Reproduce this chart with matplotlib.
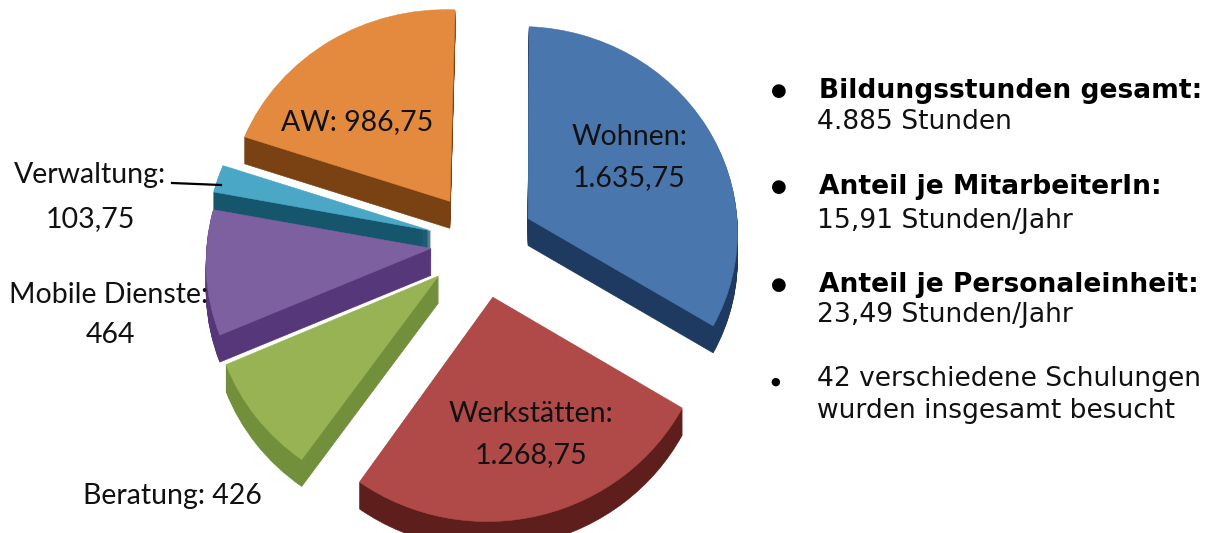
import numpy as np
import matplotlib
matplotlib.use("Agg")
import matplotlib.pyplot as plt
from matplotlib.transforms import Transform, Affine2D

categories = ["Wohnen", "Werkstätten", "Beratung", "Mobile Dienste", "Verwaltung", "AW"]
values = [1635.75, 1268.75, 426, 464, 103.75, 986.75]
value_labels = ["1.635,75", "1.268,75", "426", "464", "103,75", "986,75"]
explode = [0.25, 0.265, 0.25, 0.23, 0.24, 0.25]
top_colors = ["#4a76ae", "#b04a48", "#97b354", "#7d60a0", "#4aa8c6", "#e48a3e"]
side_colors = ["#1e3a60", "#5e1f1c", "#72903c", "#55377a", "#16566c", "#7a4212"]

W, H = 1206, 533
RX, RY = 217.0, 206.0
CX, CY = 481.0, 243.0
DEPTH = 27
K_Y, K_X = 0.055, 0.022


class Perspective(Transform):
    input_dims = output_dims = 2
    is_separable = False
    has_inverse = False

    def transform_non_affine(self, xy):
        xy = np.asarray(xy, dtype=float)
        w = 1 + K_Y * xy[:, 1] + K_X * xy[:, 0]
        return np.column_stack([xy[:, 0] / w, xy[:, 1] / w])


fig = plt.figure(figsize=(W / 100, H / 100), dpi=100, facecolor="white")
ax = fig.add_axes([0, 0, 1, 1])


def pie_layer(colors, drop):
    wedges, _ = ax.pie(values, explode=explode, colors=colors, startangle=89,
                       counterclock=False, radius=1.0,
                       wedgeprops=dict(linewidth=0.4))
    tr = Perspective() + Affine2D().translate(0, -drop / RY) + ax.transData
    for wd, col in zip(wedges, colors):
        wd.set_transform(tr)
        wd.set_edgecolor(col)


for d in range(DEPTH, 0, -1):
    pie_layer(side_colors, d)
pie_layer(top_colors, 0)

ax.set_aspect("auto")
ax.set_xlim(-CX / RX, (W - CX) / RX)
ax.set_ylim((CY - H) / RY, CY / RY)
ax.axis("off")


def px(x, y):
    return x / W, 1 - y / H


LF = ["Lato", "DejaVu Sans"]
FS = 20.5


def chart_label(x, y, s):
    fx, fy = px(x, y)
    fig.text(fx, fy, s, ha="center", va="center", family=LF, fontsize=FS, color="#111111")


chart_label(630, 137, f"{categories[0]}:")
chart_label(629, 178, value_labels[0])
chart_label(531, 414, f"{categories[1]}:")
chart_label(531, 455, value_labels[1])
chart_label(172, 496, f"{categories[2]}: {value_labels[2]}")
chart_label(109, 295, f"{categories[3]}:")
chart_label(110, 335, value_labels[3])
chart_label(90, 175, f"{categories[4]}:")
chart_label(90, 219, value_labels[4])
chart_label(357, 122, f"{categories[5]}: {value_labels[5]}")

# leader line for Verwaltung
lx0, ly0 = px(172, 183)
lx1, ly1 = px(221, 185)
fig.add_artist(plt.Line2D([lx0, lx1], [ly0, ly1], color="black", lw=1.6))

RF = "DejaVu Sans"
RS = 19.1
heads = ["Bildungsstunden gesamt:", "Anteil je MitarbeiterIn:", "Anteil je Personaleinheit:"]
subs = ["4.885 Stunden", "15,91 Stunden/Jahr", "23,49 Stunden/Jahr"]
head_y = [91, 187, 285]
sub_y = [122, 221, 315]
for h, s, hy, sy in zip(heads, subs, head_y, sub_y):
    fx, fy = px(779, hy)
    fig.text(fx, fy, "\u25cf", ha="center", va="center", family=RF, fontsize=13, color="black")
    fx, fy = px(819, hy)
    fig.text(fx, fy, h, ha="left", va="center", family=RF, fontsize=RS, fontweight="bold", color="black")
    fx, fy = px(817, sy)
    fig.text(fx, fy, s, ha="left", va="center", family=RF, fontsize=RS, color="#111111")

fx, fy = px(775, 382)
fig.text(fx, fy, "\u25cf", ha="center", va="center", family=RF, fontsize=8, color="black")
fx, fy = px(817, 379)
fig.text(fx, fy, "42 verschiedene Schulungen", ha="left", va="center", family=RF, fontsize=RS, color="#111111")
fx, fy = px(817, 411)
fig.text(fx, fy, "wurden insgesamt besucht", ha="left", va="center", family=RF, fontsize=RS, color="#111111")

fig.savefig("out.png", dpi=100, facecolor="white")
